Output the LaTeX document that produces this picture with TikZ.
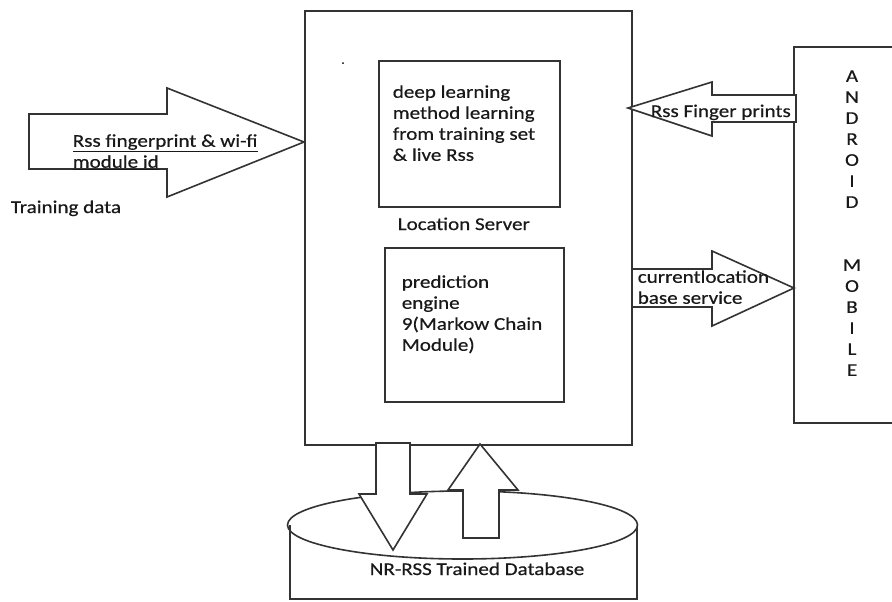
\documentclass[tikz,border=0pt]{standalone}
\usepackage{fontspec}
\setmainfont[FakeStretch=1.17,FakeBold=0.5]{Carlito}
\usetikzlibrary{calc}

\begin{document}
\begin{tikzpicture}[x=0.75pt,y=-0.75pt,
		line width=1.2pt,
		box/.style={draw=black!80},
		blockarrow/.style={draw=black!80,fill=white,line join=miter},
		lbl/.style={inner sep=0pt,font=\fontsize{13.5}{15.75}\selectfont,text=black!90},
		lblm/.style={lbl,align=left,anchor=north west}]
			\useasboundingbox (0,0) rectangle (892,601);
			% location server
			\draw[box] (305,11) rectangle (632,445);
			\fill[black] (343,63) circle (1);
			\draw[box] (379,61) rectangle (560,207);
			\draw[box] (385,248) rectangle (564,402);
			\node[lblm] (learn) at (392,84.5) {deep learning\\method learning\\from training set\\\& live Rss};
			\node[lbl,anchor=base west] (loc) at (397,230) {Location Server};
			\node[lblm] (predict) at (401,274.5) {prediction\\engine\\9(Markow Chain\\Module)};
			% android mobile
			\draw[box] (892,47) -- (794,47) -- (794,423) -- (892,423);
			\node[lbl,align=center,anchor=north] (android) at (852,69.5) {A\\N\\D\\R\\O\\I\\D\\[31.5pt]M\\O\\B\\I\\L\\E};
			% database
			\draw[box] (462.5,525) ellipse [x radius=175,y radius=34];
			\draw[box] (290,525) -- (290,599) -- (637,599) -- (637,527);
			\node[lbl,anchor=base west] (db) at (369,575) {NR-RSS Trained Database};
			\draw[blockarrow] (376,443) -- (410,443) -- (410,494) -- (427,494) -- (393,550) -- (359,494) -- (376,494) -- cycle;
			\draw[blockarrow] (463,538) -- (499,538) -- (499,490) -- (518,490) -- (480,444) -- (448,490) -- (463,490) -- cycle;
			% training data
			\draw[blockarrow] (29,114) -- (167,114) -- (167,88) -- (304,142) -- (167,197) -- (167,169) -- (29,169) -- cycle;
			\node[lblm] (rssin) at (72,133.5) {\underline{Rss fingerprint \& wi-fi}\\\underline{module id}};
			\node[lbl,anchor=base west] (train) at (10,213) {Training data};
			% to and from the mobile
			\draw[blockarrow] (796,95) -- (712,95) -- (712,82) -- (628,108) -- (712,136) -- (712,122) -- (796,122) -- cycle;
			\node[lbl,anchor=base west] (fp) at (650,117) {Rss Finger prints};
			\draw[blockarrow] (632,269) -- (712,269) -- (712,251) -- (794,288) -- (712,326) -- (712,307) -- (632,307) -- cycle;
			\node[lblm] (cur) at (637,269.5) {currentlocation\\base service};
		\end{tikzpicture}
\end{document}
